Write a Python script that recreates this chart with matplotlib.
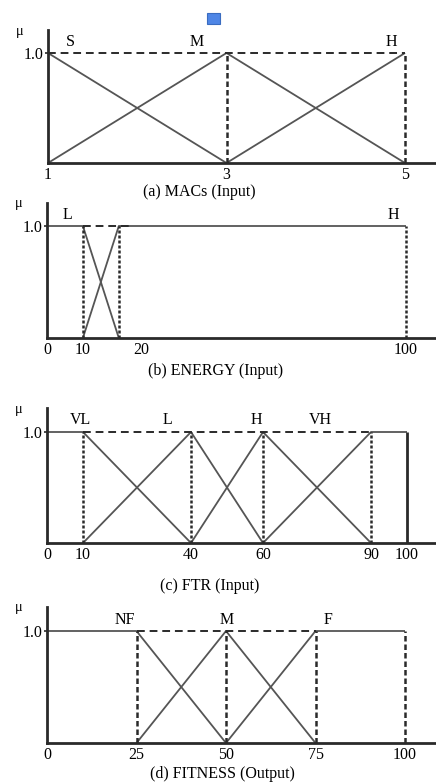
import matplotlib
matplotlib.use("Agg")
import matplotlib.pyplot as plt
from matplotlib.patches import Rectangle
import matplotlib.transforms as mtransforms

plt.rcParams['font.family'] = ['Liberation Serif', 'DejaVu Serif']

# ---------------- data ----------------
# (a) MACs (Input)
macs_terms = ["S", "M", "H"]
macs_x = [[1, 3], [1, 3, 5], [3, 5]]
macs_mu = [[1, 0], [0, 1, 0], [0, 1]]
macs_ticks = [1, 3, 5]
macs_guides = [3, 5]
macs_label_x = [1.25, 2.67, 4.85]

# (b) ENERGY (Input)
energy_terms = ["L", "H"]
energy_x = [[0, 10, 20], [10, 20, 100]]
energy_mu = [[1, 1, 0], [0, 1, 1]]
energy_ticks = [0, 10, 20, 100]
energy_guides = [10, 20, 100]
energy_label_x = [5.8, 96.4]

# (c) FTR (Input)
ftr_terms = ["VL", "L", "H", "VH"]
ftr_x = [[0, 10, 40], [10, 40, 60], [40, 60, 90], [60, 90, 100]]
ftr_mu = [[1, 1, 0], [0, 1, 0], [0, 1, 0], [0, 1, 1]]
ftr_ticks = [0, 10, 40, 60, 90, 100]
ftr_guides = [10, 40, 60, 90]
ftr_label_x = [9.2, 33.6, 58.3, 75.8]

# (d) FITNESS (Output)
fit_terms = ["NF", "M", "F"]
fit_x = [[0, 25, 50], [25, 50, 75], [50, 75, 100]]
fit_mu = [[1, 1, 0], [0, 1, 0], [0, 1, 1]]
fit_ticks = [0, 25, 50, 75, 100]
fit_guides = [25, 50, 75, 100]
fit_label_x = [21.8, 50.3, 78.5]

# ---------------- layout ----------------
W, H = 436, 782
fig = plt.figure(figsize=(W / 100, H / 100), dpi=100)

LINE = "#555555"
AX = "#2a2a2a"
FS = 11.5


def make_axes(left, top, bottom, d0, p0, d1, p1, p_one):
    ax = fig.add_axes([left / W, 1 - bottom / H, (W - left) / W, (bottom - top) / H])
    scale = (p1 - p0) / (d1 - d0)
    ax.set_xlim(d0 - (p0 - left) / scale, d0 + (W - p0) / scale)
    ax.set_ylim(0, (bottom - top) / (bottom - p_one))
    ax.patch.set_alpha(0)
    for s in ("top", "right"):
        ax.spines[s].set_visible(False)
    for s in ("left", "bottom"):
        ax.spines[s].set_linewidth(2.0)
        ax.spines[s].set_color(AX)
    ax.set_yticks([1.0])
    ax.set_yticklabels(["1.0"], fontsize=FS)
    ax.tick_params(axis="y", length=2, width=1.2, pad=1, color=AX)
    ax.tick_params(axis="x", length=0, pad=3, labelsize=FS)
    return ax


def draw_panel(ax, xs, mus, terms, label_x, ticks, guide_x, guide_style,
               dash_from, dash_to, caption, cap_xy, mu_xy, label_y):
    for x, m in zip(xs, mus):
        ax.plot(x, m, color=LINE, lw=1.3, solid_capstyle="butt", clip_on=False)
    ax.plot([dash_from, dash_to], [1, 1], color=AX, lw=1.4,
            linestyle=(0, (4, 2.5)), clip_on=False)
    ax.vlines(guide_x, 0, 1, colors=AX, lw=1.8, linestyles=[guide_style])
    for t, lx in zip(terms, label_x):
        ax.text(lx, label_y, t, ha="center", va="center", fontsize=FS)
    ax.set_xticks(ticks)
    ax.set_xticklabels([str(t) for t in ticks])
    fig.text(cap_xy[0] / W, 1 - cap_xy[1] / H, caption, ha="center",
             va="center", fontsize=FS)
    fig.text(mu_xy[0] / W, 1 - mu_xy[1] / H, "μ", ha="center", va="center",
             fontsize=FS - 1)


# (a)
axa = make_axes(48, 30, 163, 1, 48, 5, 405, 53)
draw_panel(axa, macs_x, macs_mu, macs_terms, macs_label_x, macs_ticks,
           macs_guides, (0, (2.2, 1.2)), 1, 5, "(a) MACs (Input)", (199, 192),
           (20, 32), 1.1)

# (b)
axb = make_axes(47, 203, 338, 0, 47, 100, 406, 226)
draw_panel(axb, energy_x, energy_mu, energy_terms, energy_label_x,
           energy_ticks, energy_guides, (0, (1.2, 0.8)), 10, 23,
           "(b) ENERGY (Input)", (216, 371), (19, 204), 1.1)
lbl = axb.get_xticklabels()[2]
lbl.set_transform(lbl.get_transform() +
                  mtransforms.ScaledTranslation(22 / 100, 0, fig.dpi_scale_trans))

# (c)
axc = make_axes(47, 408, 543, 0, 47, 100, 407, 432)
draw_panel(axc, ftr_x, ftr_mu, ftr_terms, ftr_label_x, ftr_ticks,
           ftr_guides, (0, (1.2, 0.8)), 10, 90, "(c) FTR (Input)",
           (210, 586), (19, 410), 1.11)
axc.vlines([100], 0, 1, colors=AX, lw=2.0)

# (d)
axd = make_axes(47, 607, 743, 0, 47, 100, 405, 631)
draw_panel(axd, fit_x, fit_mu, fit_terms, fit_label_x, fit_ticks,
           fit_guides, (0, (2.2, 1.2)), 25, 75, "(d) FITNESS (Output)",
           (222, 774), (19, 608), 1.1)

# small blue square marker at top
fig.patches.append(Rectangle((207 / W, 1 - 24 / H), 13 / W, 11 / H,
                             transform=fig.transFigure, facecolor="#4f86e6",
                             edgecolor="#3a6cc0", lw=0.8))

fig.savefig("out.png", dpi=100)
